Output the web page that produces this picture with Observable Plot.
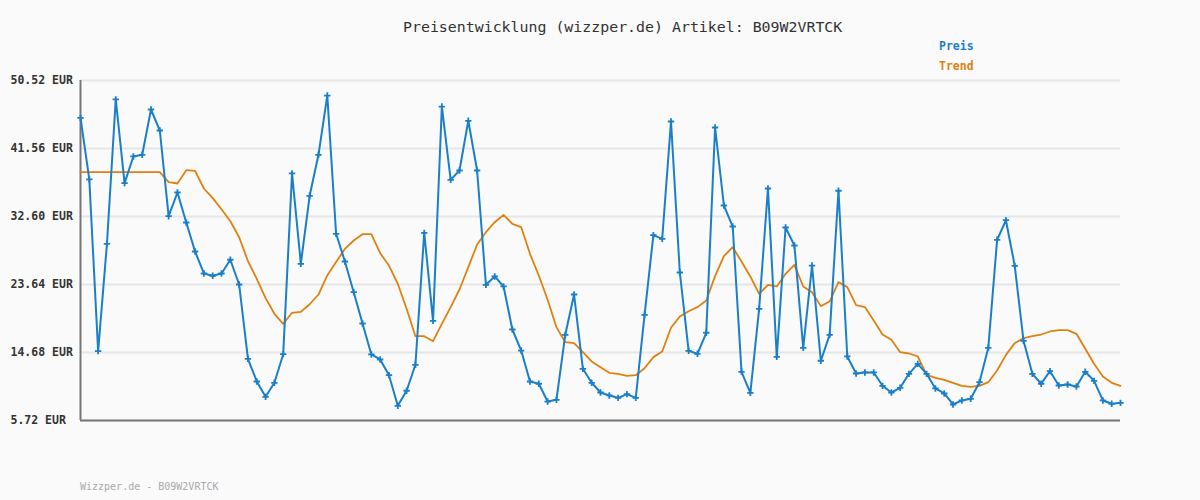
<!DOCTYPE html>
<html>
<head>
<meta charset="utf-8">
<script src="https://cdn.jsdelivr.net/npm/d3@7"></script>
<script src="https://cdn.jsdelivr.net/npm/@observablehq/plot@0.6"></script>
<style>
  body { margin: 0; background: #fafafa; }
  #wrap { position: relative; width: 1200px; height: 500px; background: #fafafa; font-family: "DejaVu Sans Mono", monospace; }
  .lbl { position: absolute; line-height: 1; white-space: nowrap; }
</style>
</head>
<body>
<div id="wrap">
  <div id="chart"></div>
  <div class="lbl" style="left:403px;top:20px;font-size:14.9px;color:#333;">Preisentwicklung (wizzper.de) Artikel: B09W2VRTCK</div>
  <div class="lbl" style="left:939px;top:41px;font-size:11.5px;font-weight:bold;color:#1a7fc9;">Preis</div>
  <div class="lbl" style="left:939px;top:61px;font-size:11.5px;font-weight:bold;color:#e0810f;">Trend</div>
  <div class="lbl" style="left:80px;top:482px;font-size:10px;color:#aaa;">Wizzper.de - B09W2VRTCK</div>
</div>
<script>
const yTicks = [50.52, 41.56, 32.60, 23.64, 14.68, 5.72];

const preis = [
  45.6, 37.48, 14.86, 29.0, 48.02, 36.99, 40.51, 40.73, 46.70, 43.93,
  32.64, 35.76, 31.81, 27.99, 25.09, 24.79, 25.09, 26.9, 23.64, 13.85,
  10.86, 8.84, 10.69, 14.46, 38.27, 26.37, 35.33, 40.73, 48.54, 30.32,
  26.67, 22.63, 18.50, 14.42, 13.76, 11.69, 7.66, 9.64, 13.06, 30.45,
  18.86, 47.09, 37.43, 38.66, 45.21, 38.66, 23.6, 24.7, 23.38, 17.71,
  14.94, 10.86, 10.56, 8.22, 8.45, 17.01, 22.32, 12.53, 10.69, 9.41,
  9.02, 8.71, 9.19, 8.71, 19.65, 30.14, 29.66, 45.12, 25.22, 14.90,
  14.51, 17.28, 44.33, 34.05, 31.28, 12.14, 9.37, 20.44, 36.29, 14.11,
  31.15, 28.78, 15.30, 26.14, 13.59, 17.01, 35.99, 14.16, 11.91, 12.05,
  12.05, 10.29, 9.41, 10.03, 11.87, 13.19, 11.87, 9.94, 9.28, 7.83,
  8.36, 8.58, 10.77, 15.30, 29.53, 32.11, 26.10, 16.22, 11.87, 10.56,
  12.22, 10.33, 10.47, 10.2, 12.14, 10.95, 8.36, 7.92, 8.05
];

const trend = [
  38.44, 38.44, 38.44, 38.44, 38.44, 38.44, 38.44, 38.44, 38.44, 38.44,
  37.12, 36.95, 38.70, 38.62, 36.29, 35.02, 33.56, 31.98, 29.87, 26.71,
  24.39, 21.84, 19.78, 18.46, 19.91, 20.04, 21.04, 22.32, 24.83, 26.6,
  28.34, 29.44, 30.27, 30.27, 27.77, 26.14, 23.73, 20.44, 16.83, 16.83,
  16.17, 18.46, 20.66, 22.98, 25.92, 28.91, 30.53, 31.85, 32.82, 31.64,
  31.19, 27.68, 24.83, 21.63, 18.02, 16.04, 15.91, 14.72, 13.50, 12.74,
  12.0, 11.87, 11.61, 11.69, 12.61, 14.07, 14.81, 17.94, 19.42, 20.12,
  20.66, 21.53, 24.74, 27.37, 28.56, 26.67, 24.70, 22.41, 23.60, 23.38,
  25.05, 26.23, 23.38, 22.63, 20.79, 21.40, 23.95, 23.29, 20.92, 20.66,
  18.90, 17.05, 16.35, 14.72, 14.55, 14.16, 11.74, 11.35, 11.08, 10.69,
  10.29, 10.16, 10.29, 10.77, 12.31, 14.37, 15.91, 16.57, 16.83, 17.05,
  17.45, 17.62, 17.62, 17.14, 15.17, 13.19, 11.52, 10.69, 10.29
];

const preisData = preis.map((v, i) => ({i, v}));
const trendData = trend.map((v, i) => ({i, v}));

const blue = "#1a7fc9";
const orange = "#e0810f";

const chart = Plot.plot({
  width: 1200,
  height: 500,
  marginTop: 80,
  marginBottom: 80,
  marginLeft: 80,
  marginRight: 80,
  style: { background: "#fafafa", fontFamily: "DejaVu Sans Mono, monospace" },
  x: { axis: null, domain: [0, preis.length - 1] },
  y: { domain: [5.72, 50.52], axis: null },
  marks: [
    Plot.gridY(yTicks, { stroke: "#e6e6e6", strokeOpacity: 1, strokeWidth: 2 }),
    Plot.axisY(yTicks, {
      tickSize: 0,
      tickPadding: 0,
      textAnchor: "start",
      dx: -70,
      fontSize: 11.5,
      fontWeight: "bold",
      fill: "#333",
      label: null,
      tickFormat: d => d.toFixed(2) + " EUR"
    }),
    Plot.ruleY([5.72], { stroke: "#777", strokeWidth: 2 }),
    Plot.ruleX([0], { stroke: "#777", strokeWidth: 2 }),
    Plot.line(trendData, { x: "i", y: "v", stroke: orange, strokeWidth: 1.8 }),
    Plot.line(preisData, { x: "i", y: "v", stroke: blue, strokeWidth: 2 }),
    Plot.dot(preisData, { x: "i", y: "v", symbol: "plus", r: 2.2, stroke: blue, strokeWidth: 1.8 })
  ]
});
document.getElementById("chart").appendChild(chart);
</script>
</body>
</html>
